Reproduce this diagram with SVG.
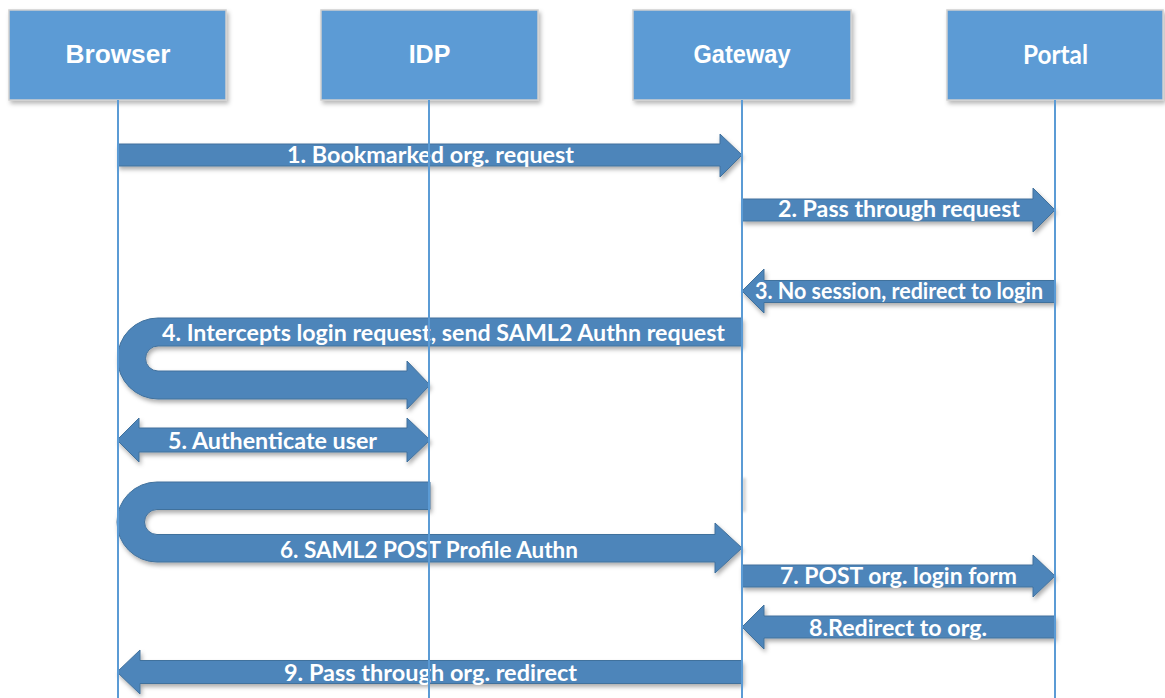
<svg xmlns="http://www.w3.org/2000/svg" width="1165" height="698" viewBox="0 0 1165 698">
  <defs>
    <filter id="boxShadow" x="-10%" y="-10%" width="125%" height="130%">
      <feDropShadow dx="2" dy="3" stdDeviation="2" flood-color="#000" flood-opacity="0.28"/>
    </filter>
    <filter id="arrowShadow" x="-5%" y="-20%" width="110%" height="150%">
      <feDropShadow dx="1.5" dy="3" stdDeviation="2" flood-color="#000" flood-opacity="0.32"/>
    </filter>
    <filter id="soft" x="-100%" y="-20%" width="300%" height="140%">
      <feGaussianBlur stdDeviation="1.5"/>
    </filter>
    <style>
      .box { fill: #5B9BD5; stroke: #CFCFCF; stroke-width: 1.5; filter: url(#boxShadow); }
      .head { fill: #FFFFFF; font-family: "Liberation Sans", Arial, sans-serif; font-weight: bold; font-size: 25px; text-anchor: middle; }
      .head2 { fill: #FFFFFF; font-family: Lato, "Open Sans", sans-serif; font-weight: bold; font-size: 27px; text-anchor: middle; }
      .life { stroke: #5B9BD5; stroke-width: 2; fill: none; }
      .arrow { fill: #4E85BA; stroke: #41719C; stroke-width: 1; filter: url(#arrowShadow); }
      .lbl { fill: #FFFFFF; font-family: Lato, "Open Sans", sans-serif; font-weight: bold; font-size: 22px; text-anchor: middle; }
    </style>
  </defs>

  <rect width="1165" height="698" fill="#FFFFFF"/>

  <!-- participants -->
  <g id="browser">
    <rect class="box" x="9" y="10" width="217" height="90"/>
    <text class="head" x="118" y="63" textLength="105" lengthAdjust="spacingAndGlyphs">Browser</text>
  </g>
  <g id="idp">
    <rect class="box" x="321" y="10" width="217" height="90"/>
    <text class="head" x="429.5" y="63">IDP</text>
  </g>
  <g id="gateway">
    <rect class="box" x="633" y="10" width="218" height="90"/>
    <text class="head" x="742" y="63" textLength="97" lengthAdjust="spacingAndGlyphs">Gateway</text>
  </g>
  <g id="portal">
    <rect class="box" x="947" y="10" width="216" height="90"/>
    <text class="head2" x="1055.5" y="64" textLength="65" lengthAdjust="spacingAndGlyphs">Portal</text>
  </g>

  <!-- message arrows -->
  <g id="connectors">
    <g id="msg1">
      <path class="arrow" d="M118,144 H720 V134 L742,155 L720,177 V166 H118 Z"/>
      <text class="lbl" x="430.5" y="163" textLength="287" lengthAdjust="spacingAndGlyphs">1. Bookmarked org. request</text>
    </g>
    <g id="msg2">
      <path class="arrow" d="M742,199 H1033 V188 L1055,210 L1033,232 V221 H742 Z"/>
      <text class="lbl" x="899" y="217" textLength="242" lengthAdjust="spacingAndGlyphs">2. Pass through request</text>
    </g>
    <g id="msg3">
      <path class="arrow" d="M1055,280.5 H764 V269 L742,291 L764,313 V302.5 H1055 Z"/>
      <text class="lbl" x="899" y="298.5" textLength="288" lengthAdjust="spacingAndGlyphs">3. No session, redirect to login</text>
    </g>
    <g id="msg4">
      <path class="arrow" d="M742,318 H158 A40.5,40.5 0 0 0 158,399 H407 V409 L430,385 L407,361 V371 H158 A12.5,12.5 0 0 1 158,346 H742 Z"/>
      <text class="lbl" x="443.5" y="340.5" textLength="563" lengthAdjust="spacingAndGlyphs">4. Intercepts login request, send SAML2 Authn request</text>
    </g>
    <g id="msg5">
      <path class="arrow" d="M139,428 H407 V418 L430,440 L407,462 V452 H139 V462 L117,440 L139,418 Z"/>
      <text class="lbl" x="272.5" y="448.5" textLength="209" lengthAdjust="spacingAndGlyphs">5. Authenticate user</text>
    </g>
    <g id="msg6">
      <path class="arrow" d="M430,482 H157 A40,40 0 0 0 157,562 H715 V573 L742,548 L715,523 V534.5 H157 A12.5,12.5 0 0 1 157,509.5 H430 Z"/>
      <text class="lbl" x="429" y="557.5" textLength="298" lengthAdjust="spacingAndGlyphs">6. SAML2 POST Profile Authn</text>
    </g>
    <g id="msg7">
      <path class="arrow" d="M742,565 H1033 V555 L1055,576 L1033,597 V587 H742 Z"/>
      <text class="lbl" x="898.5" y="584" textLength="237" lengthAdjust="spacingAndGlyphs">7. POST org. login form</text>
    </g>
    <g id="msg8">
      <path class="arrow" d="M1055,616 H764 V605 L742,627 L764,649 V638 H1055 Z"/>
      <text class="lbl" x="898" y="635.5" textLength="178" lengthAdjust="spacingAndGlyphs">8.Redirect to org.</text>
    </g>
    <g id="msg9">
      <path class="arrow" d="M742,660.5 H140 V650 L117,672 L140,694 V683.5 H742 Z"/>
      <text class="lbl" x="430.5" y="680.5" textLength="293" lengthAdjust="spacingAndGlyphs">9. Pass through org. redirect</text>
    </g>
  </g>

  <!-- faint edge shadow beside the gateway lifeline -->
  <rect x="742.5" y="478" width="3" height="34" fill="#000" opacity="0.22" filter="url(#soft)"/>

  <!-- lifelines -->
  <g id="lifelines">
    <line class="life" x1="118" y1="100" x2="118" y2="698"/>
    <line class="life" x1="429" y1="100" x2="429" y2="698"/>
    <line class="life" x1="742" y1="100" x2="742" y2="698"/>
    <line class="life" x1="1055" y1="100" x2="1055" y2="698"/>
  </g>
</svg>
